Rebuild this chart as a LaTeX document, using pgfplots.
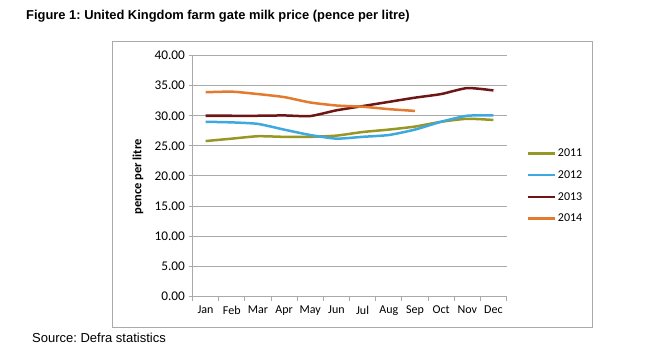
\documentclass[border=0pt]{standalone}
\usepackage{pgfplots}
\pgfplotsset{compat=1.18}
\usepackage{fontspec}
\setmainfont{Carlito}
\newfontfamily\arial{Liberation Sans}
\frenchspacing
\definecolor{c11}{RGB}{152,150,36}
\definecolor{c12}{RGB}{62,168,224}
\definecolor{c13}{RGB}{110,22,22}
\definecolor{c14}{RGB}{226,122,48}
\definecolor{gridc}{RGB}{170,170,170}
\begin{document}
\begin{tikzpicture}
\path (0bp,0bp) rectangle (652bp,359bp);
\draw[gridc, line width=1bp] (112bp,31bp) rectangle (592bp,317bp);
\node[anchor=base west, font=\arial\bfseries\fontsize{12.9bp}{16bp}\selectfont, inner sep=0] at (26bp,339bp) {Figure 1: United Kingdom farm gate milk price (pence per litre)};
\node[anchor=base west, font=\arial\fontsize{13bp}{15bp}\selectfont, inner sep=0] at (32bp,17bp) {Source: Defra statistics};
\begin{axis}[
  at={(192.5bp,62.5bp)}, anchor=south west,
  scale only axis, width=314bp, height=241bp,
  xmin=0.5, xmax=12.5, ymin=0, ymax=40,
  ytick={0,5,...,40},
  yticklabel style={font=\fontsize{13.3bp}{15bp}\selectfont, /pgf/number format/.cd, fixed, fixed zerofill, precision=2, assume math mode=true},
  axis x line*=bottom, axis y line*=left,
  axis line style={draw=gridc, line width=1bp, -},
  ymajorgrids, grid style={gridc, line width=1bp},
  xtick={1,...,12},
  xticklabels={Jan,Feb,Mar,Apr,May,Jun,Jul,Aug,Sep,Oct,Nov,Dec},
  minor xtick={0.5,1.5,...,12.5},
  major x tick style={draw=none},
  minor x tick style={draw=gridc, line width=1bp},
  y tick style={draw=gridc, line width=1bp},
  tick align=outside,
  major tick length=4bp, minor tick length=4bp,
  xticklabel style={font=\fontsize{12bp}{14bp}\selectfont, yshift=-2bp},
  ylabel={pence per litre},
  ylabel style={font=\bfseries\fontsize{12.5bp}{14bp}\selectfont, at={(axis description cs:-0.174,0.496)}, anchor=center},
  legend style={at={(axis description cs:1.063,0.622)}, anchor=north west, draw=none, fill=none,
    font=\fontsize{12bp}{14bp}\selectfont, row sep=8.5bp, inner sep=0pt},
  legend cell align=left,
  legend image code/.code={\draw[#1, line width=2.5bp] (0bp,0bp) -- (27bp,0bp);},
  every axis plot/.append style={line width=2.5bp, smooth, tension=0.35},
]
\addplot[c11] coordinates {(1,25.8)(2,26.2)(3,26.6)(4,26.5)(5,26.5)(6,26.7)(7,27.3)(8,27.7)(9,28.2)(10,29.0)(11,29.5)(12,29.3)};
\addlegendentry{2011}
\addplot[c12] coordinates {(1,29.0)(2,28.9)(3,28.65)(4,27.7)(5,26.8)(6,26.2)(7,26.5)(8,26.8)(9,27.7)(10,29.0)(11,30.0)(12,30.05)};
\addlegendentry{2012}
\addplot[c13] coordinates {(1,30.0)(2,30.0)(3,30.0)(4,30.05)(5,29.95)(6,30.9)(7,31.6)(8,32.3)(9,33.0)(10,33.6)(11,34.6)(12,34.2)};
\addlegendentry{2013}
\addplot[c14] coordinates {(1,33.9)(2,34.0)(3,33.6)(4,33.1)(5,32.2)(6,31.7)(7,31.5)(8,31.1)(9,30.8)};
\addlegendentry{2014}
\end{axis}
\end{tikzpicture}
\end{document}
